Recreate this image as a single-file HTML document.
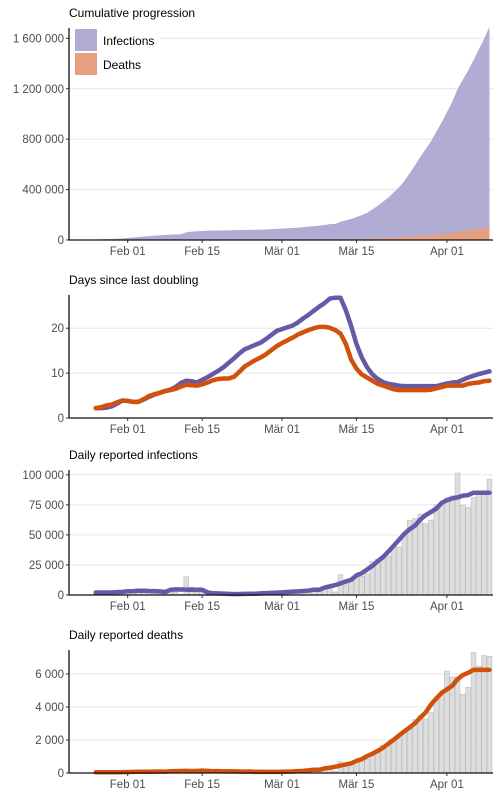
<!DOCTYPE html>
<html><head><meta charset="utf-8"><style>
html,body{margin:0;padding:0;background:#fff;}
svg{display:block;font-family:"Liberation Sans",Arial,sans-serif;}
</style></head><body>
<svg id="chart" width="500" height="800" viewBox="0 0 500 800"></svg>
<script>
// ---------- data (day index 0 = Feb 01, series start at day -6 = Jan 26) ----------
const startDay = -6;
const dateTickLabels = ["Feb 01","Feb 15","Mär 01","Mär 15","Apr 01"];
const dateTickDays = [0,14,29,43,60];

const cumInfections = [2927,5578,6166,8234,9927,12038,16787,19881,23892,27635,30794,34391,37120,40150,42762,44802,45221,60368,66885,69030,71224,73258,75136,75639,76197,76823,78579,78965,79568,80413,81395,82754,84120,86011,88369,90306,92840,95120,97886,101801,105847,109821,113590,118620,125875,128352,145205,156101,167454,181574,197102,214821,242570,272208,304507,336953,378235,418045,467653,529591,593291,660693,720140,782389,857487,932605,1013466,1095917,1197405,1272115,1345048,1426096,1511104,1595350,1691719];
const cumDeaths = [82,131,133,171,213,259,362,426,492,564,634,719,806,906,1013,1113,1118,1371,1523,1666,1770,1868,2007,2122,2247,2251,2458,2469,2629,2708,2770,2814,2872,2941,2996,3085,3160,3254,3348,3460,3558,3802,3988,4262,4615,4720,5404,5819,6440,7126,7905,8733,9867,11299,12973,14623,16497,18615,21181,23970,27198,30652,33925,37582,42107,46809,52983,58787,64606,69374,74565,81865,88338,95455,102525];

const doublingInfections = [2.2,2.2,2.3,2.6,3.2,3.9,3.8,3.6,3.6,4.1,4.7,5.2,5.6,6.0,6.3,6.9,7.8,8.3,8.2,7.9,8.5,9.1,9.8,10.5,11.3,12.3,13.3,14.4,15.3,15.8,16.3,16.8,17.6,18.5,19.4,19.8,20.2,20.6,21.3,22.2,23.0,23.9,24.8,25.6,26.6,26.8,26.8,24.0,20.5,16.5,13.5,11.3,9.7,8.7,8.0,7.6,7.4,7.2,7.1,7.1,7.1,7.1,7.1,7.1,7.1,7.4,7.7,7.9,8.0,8.5,9.0,9.4,9.8,10.1,10.4];
const doublingDeaths = [2.2,2.4,2.8,3.0,3.5,3.9,3.8,3.6,3.6,4.2,4.9,5.3,5.6,6.0,6.2,6.5,7.0,7.4,7.3,7.2,7.5,7.9,8.4,8.7,8.8,8.8,9.2,10.3,11.5,12.2,12.9,13.5,14.2,15.1,16.0,16.7,17.3,17.9,18.6,19.1,19.6,20.0,20.3,20.3,20.1,19.6,18.8,16.5,13.0,11.0,9.7,9.0,8.3,7.6,7.2,6.8,6.4,6.2,6.2,6.2,6.2,6.2,6.2,6.3,6.6,6.9,7.2,7.2,7.2,7.2,7.6,7.8,7.9,8.2,8.3];

const dailyInfections = [809,2651,588,2068,1693,2111,4749,3094,4011,3743,3159,3597,2729,3030,2612,2040,419,15147,6517,2145,2194,2034,1878,503,558,626,1756,386,603,845,982,1359,1366,1891,2358,1937,2534,2280,2766,3915,4046,3974,3769,5030,7255,2477,16853,10896,11353,14120,15528,17719,27749,29638,32299,32446,41282,39810,49608,61938,63700,67402,59447,62249,75098,75118,80861,82451,101488,74710,72933,81048,85008,84246,96369];
const dailyDeaths = [26,49,2,38,42,46,103,64,66,72,70,85,87,100,107,100,5,253,152,143,104,98,139,115,125,4,207,11,160,79,62,44,58,69,55,89,75,94,94,112,98,244,186,274,353,105,684,415,621,686,779,828,1134,1432,1674,1650,1874,2118,2566,2789,3228,3454,3273,3657,4525,4702,6174,5804,5819,4768,5191,7300,6473,7117,7070];

const ticks1 = [0,400000,800000,1200000,1600000];
const ticks2 = [0,10,20];
const ticks3 = [0,25000,50000,75000,100000];
const ticks4 = [0,2000,4000,6000];

// ---------- drawing ----------
const NS = "http://www.w3.org/2000/svg";
const svg = document.getElementById("chart");
const X0 = 69, X1 = 493;
const xDay = d => 127.7 + d * 5.32;
const fmt = v => String(v).replace(/\B(?=(\d{3})+(?!\d))/g, " ");
const PURPLE = "#6559a8", ORANGE = "#d1510c";

function mk(tag, attrs, parent) {
  const e = document.createElementNS(NS, tag);
  for (const k in attrs) e.setAttribute(k, attrs[k]);
  (parent || svg).appendChild(e);
  return e;
}
function smooth(arr) {
  const n = arr.length;
  return arr.map((_, i) => {
    let a = Math.max(0, Math.min(i - 3, n - 7));
    let s = 0;
    for (let j = a; j < a + 7; j++) s += arr[j];
    return s / 7;
  });
}

function panel(name, title, top, bottom, ymax, ticks) {
  const g = mk("g", {});
  
  
  const y = v => bottom - (v / ymax) * (bottom - top);
  const t = mk("text", {x: 69, y: top - 11, "font-size": 12, fill: "#000"}, g);
  t.textContent = title;
  
  
  ticks.forEach(v => {
    if (v > 0) {
      const gl = mk("line", {x1: X0, x2: X1, y1: y(v), y2: y(v), stroke: "#e6e6e6", "stroke-width": 1}, g);
      
      
    }
    const tk = mk("line", {x1: X0 - 3, x2: X0, y1: y(v), y2: y(v), stroke: "#333", "stroke-width": 1}, g);
    
    
    const lb = mk("text", {x: X0 - 5, y: y(v) + 4, "font-size": 11.5, fill: "#4d4d4d", "text-anchor": "end"}, g);
    lb.textContent = fmt(v);
    
    
  });
  dateTickDays.forEach((d, i) => {
    const tk = mk("line", {x1: xDay(d), x2: xDay(d), y1: bottom, y2: bottom + 3, stroke: "#333", "stroke-width": 1}, g);
    
    
    const lb = mk("text", {x: xDay(d), y: bottom + 15, "font-size": 11.5, fill: "#4d4d4d", "text-anchor": "middle"}, g);
    lb.textContent = dateTickLabels[i];
    
    
  });
  return {g, y, top, bottom};
}
function axes(p) {
  const ya = mk("line", {x1: X0, x2: X0, y1: p.top, y2: p.bottom + 0.5, stroke: "#111", "stroke-width": 1.3}, p.g);
  
  
  const xa = mk("line", {x1: X0, x2: X1, y1: p.bottom, y2: p.bottom, stroke: "#111", "stroke-width": 1.3}, p.g);
  
  
}
function area(p, arr, fill, name) {
  let d = "M" + xDay(startDay) + "," + p.bottom;
  arr.forEach((v, i) => { d += " L" + xDay(startDay + i).toFixed(2) + "," + p.y(v).toFixed(2); });
  d += " L" + xDay(startDay + arr.length - 1) + "," + p.bottom + " Z";
  const a = mk("path", {d, fill, stroke: "none"}, p.g);
  
  
}
function line(p, arr, color, name) {
  const pts = arr.map((v, i) => xDay(startDay + i).toFixed(2) + "," + p.y(v).toFixed(2)).join(" ");
  const l = mk("polyline", {points: pts, fill: "none", stroke: color, "stroke-width": 4.5, "stroke-linejoin": "round", "stroke-linecap": "round"}, p.g);
  
  
}
function bars(p, arr, name) {
  arr.forEach((v, i) => {
    const cx = xDay(startDay + i);
    const b = mk("rect", {x: cx - 2.4, y: p.y(v), width: 4.8, height: Math.max(0, p.bottom - p.y(v)), fill: "#dedede", stroke: "#bdbdbd", "stroke-width": 0.6}, p.g);
    
    
  });
}

// Panel 1
const p1 = panel("cumulative-panel", "Cumulative progression", 28, 240, 1682000, ticks1);
area(p1, cumInfections, "#b1acd3", "infections-area");
area(p1, cumDeaths, "#e7a07f", "deaths-area");
axes(p1);
const lg = mk("g", {});


mk("rect", {x: 72, y: 28, width: 88, height: 50, fill: "#fff"}, lg);
const le1 = mk("rect", {x: 75, y: 29, width: 22, height: 22, fill: "#b1acd3"}, lg);


const lt1 = mk("text", {x: 103, y: 45, "font-size": 12, fill: "#000"}, lg);
lt1.textContent = "Infections";


const le2 = mk("rect", {x: 75, y: 53, width: 22, height: 22, fill: "#e7a07f"}, lg);


const lt2 = mk("text", {x: 103, y: 69, "font-size": 12, fill: "#000"}, lg);
lt2.textContent = "Deaths";



// Panel 2
const p2 = panel("doubling-panel", "Days since last doubling", 295, 418, 27.4, ticks2);
line(p2, doublingInfections, PURPLE, "doubling-infections-line");
line(p2, doublingDeaths, ORANGE, "doubling-deaths-line");
axes(p2);

// Panel 3
const p3 = panel("daily-infections-panel", "Daily reported infections", 470, 595, 104000, ticks3);
bars(p3, dailyInfections, "infection-bar");
line(p3, smooth(dailyInfections), PURPLE, "infections-trend-line");
axes(p3);

// Panel 4
const p4 = panel("daily-deaths-panel", "Daily reported deaths", 650, 773, 7450, ticks4);
bars(p4, dailyDeaths, "death-bar");
line(p4, smooth(dailyDeaths), ORANGE, "deaths-trend-line");
axes(p4);
</script>
</body></html>
